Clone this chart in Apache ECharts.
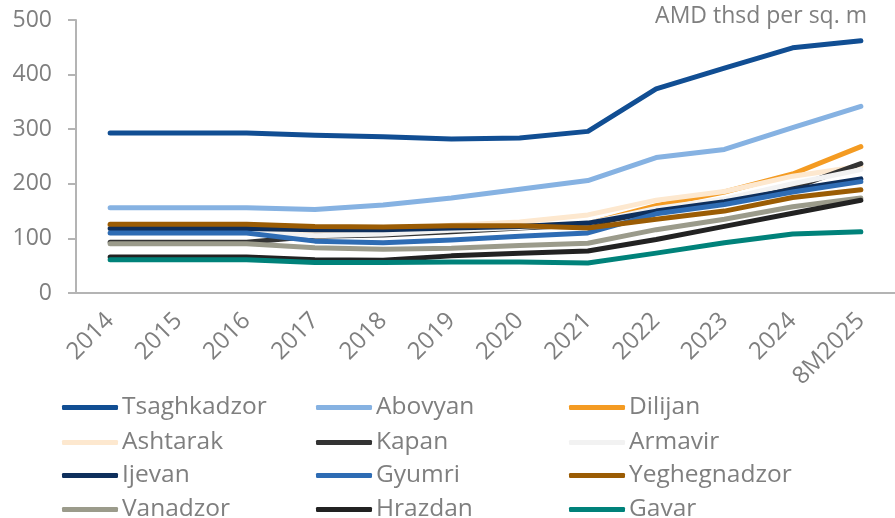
<!DOCTYPE html>
<html>
<head>
<meta charset="utf-8">
<script src="https://cdn.jsdelivr.net/npm/echarts@6/dist/echarts.min.js"></script>
<style>html,body{margin:0;padding:0;background:#fff}#c{width:895px;height:518px}</style>
</head>
<body>
<div id="c"></div>
<script>
const categories = ['2014','2015','2016','2017','2018','2019','2020','2021','2022','2023','2024','8M2025'];
const yTicks = [0,100,200,300,400,500];
const unitLabel = 'AMD thsd per sq. m';

const Tsaghkadzor  = [293,293,293,289,286,282,284,296,374,412,449,462];
const Abovyan      = [156,156,156,153,161,174,190,206,248,263,303,342];
const Dilijan      = [124,124,124,120,120,121,122,127,160,185,218,268];
const Ashtarak     = [120,120,120,112,112,124,130,143,170,186,214,232];
const Kapan        = [93,93,93,104,106,112,119,125,150,166,192,237];
const Armavir      = [110,110,110,105,108,115,120,128,155,172,200,226];
const Ijevan       = [118,118,118,116,116,119,122,128,150,167,189,209];
const Gyumri       = [110,110,110,95,92,97,104,110,145,162,185,204];
const Yeghegnadzor = [126,126,126,122,121,123,123,119,135,150,175,189];
const Vanadzor     = [90,90,90,83,80,82,87,91,116,135,158,174];
const Hrazdan      = [66,66,66,61,60,68,73,77,98,122,146,170];
const Gavar        = [61,61,61,56,56,57,57,55,73,92,108,112];

const seriesDefs = [
  ['Tsaghkadzor', Tsaghkadzor, '#114e93'],
  ['Abovyan', Abovyan, '#86b2e2'],
  ['Dilijan', Dilijan, '#f49b22'],
  ['Ashtarak', Ashtarak, '#fde8cf'],
  ['Kapan', Kapan, '#333333'],
  ['Armavir', Armavir, '#f2f2f2'],
  ['Ijevan', Ijevan, '#0e2f5c'],
  ['Gyumri', Gyumri, '#2e6cb4'],
  ['Yeghegnadzor', Yeghegnadzor, '#9b5c04'],
  ['Vanadzor', Vanadzor, '#9b9b8b'],
  ['Hrazdan', Hrazdan, '#222222'],
  ['Gavar', Gavar, '#00827a']
];

const legendRows = [
  ['Tsaghkadzor','Abovyan','Dilijan'],
  ['Ashtarak','Kapan','Armavir'],
  ['Ijevan','Gyumri','Yeghegnadzor'],
  ['Vanadzor','Hrazdan','Gavar']
];
const legendLeft = [62, 316, 569];
const legendRowCenter = [405, 440, 473, 507];

const FONT = '"Open Sans", sans-serif';
const GREY = '#7f7f7f';

const legends = [];
legendRows.forEach((row, r) => row.forEach((name, c) => {
  legends.push({
    left: legendLeft[c],
    top: legendRowCenter[r] - 10,
    data: [name],
    icon: 'roundRect',
    itemWidth: 56,
    itemHeight: 5,
    padding: 0,
    textStyle: {fontSize: 24.5, lineHeight: 20, color: GREY, fontFamily: FONT, padding: [0,0,0,-1]}
  });
}));

const chart = echarts.init(document.getElementById('c'), null, {renderer:'canvas'});
chart.setOption({
  animation: false,
  backgroundColor: '#fff',
  grid: {left: 76, right: -12, top: 20, bottom: 225, containLabel: false},
  xAxis: {
    type: 'category',
    data: categories,
    boundaryGap: true,
    axisLine: {lineStyle: {color: '#b4b4b4', width: 2}},
    axisTick: {show: false},
    axisLabel: {rotate: 45, margin: 24, fontSize: 24, color: GREY, fontFamily: FONT, interval: 0}
  },
  yAxis: {
    type: 'value',
    min: yTicks[0], max: yTicks[yTicks.length-1], interval: 100,
    axisLine: {show: true, lineStyle: {color: '#b4b4b4', width: 2}},
    axisTick: {show: true, length: 8, lineStyle: {color: '#b4b4b4', width: 2}},
    splitLine: {show: false},
    axisLabel: {margin: 24, fontSize: 23, color: GREY, fontFamily: FONT}
  },
  legend: legends,
  graphic: [{
    type: 'text', right: 28, top: 5,
    style: {text: unitLabel, fontSize: 23, fill: GREY, fontFamily: FONT}
  }],
  series: seriesDefs.map(([name, data, color]) => ({
    name, type: 'line', data,
    symbol: 'none',
    lineStyle: {color, width: 5, cap: 'round', join: 'round'},
    itemStyle: {color},
    emphasis: {disabled: true}
  }))
});
</script>
</body>
</html>
